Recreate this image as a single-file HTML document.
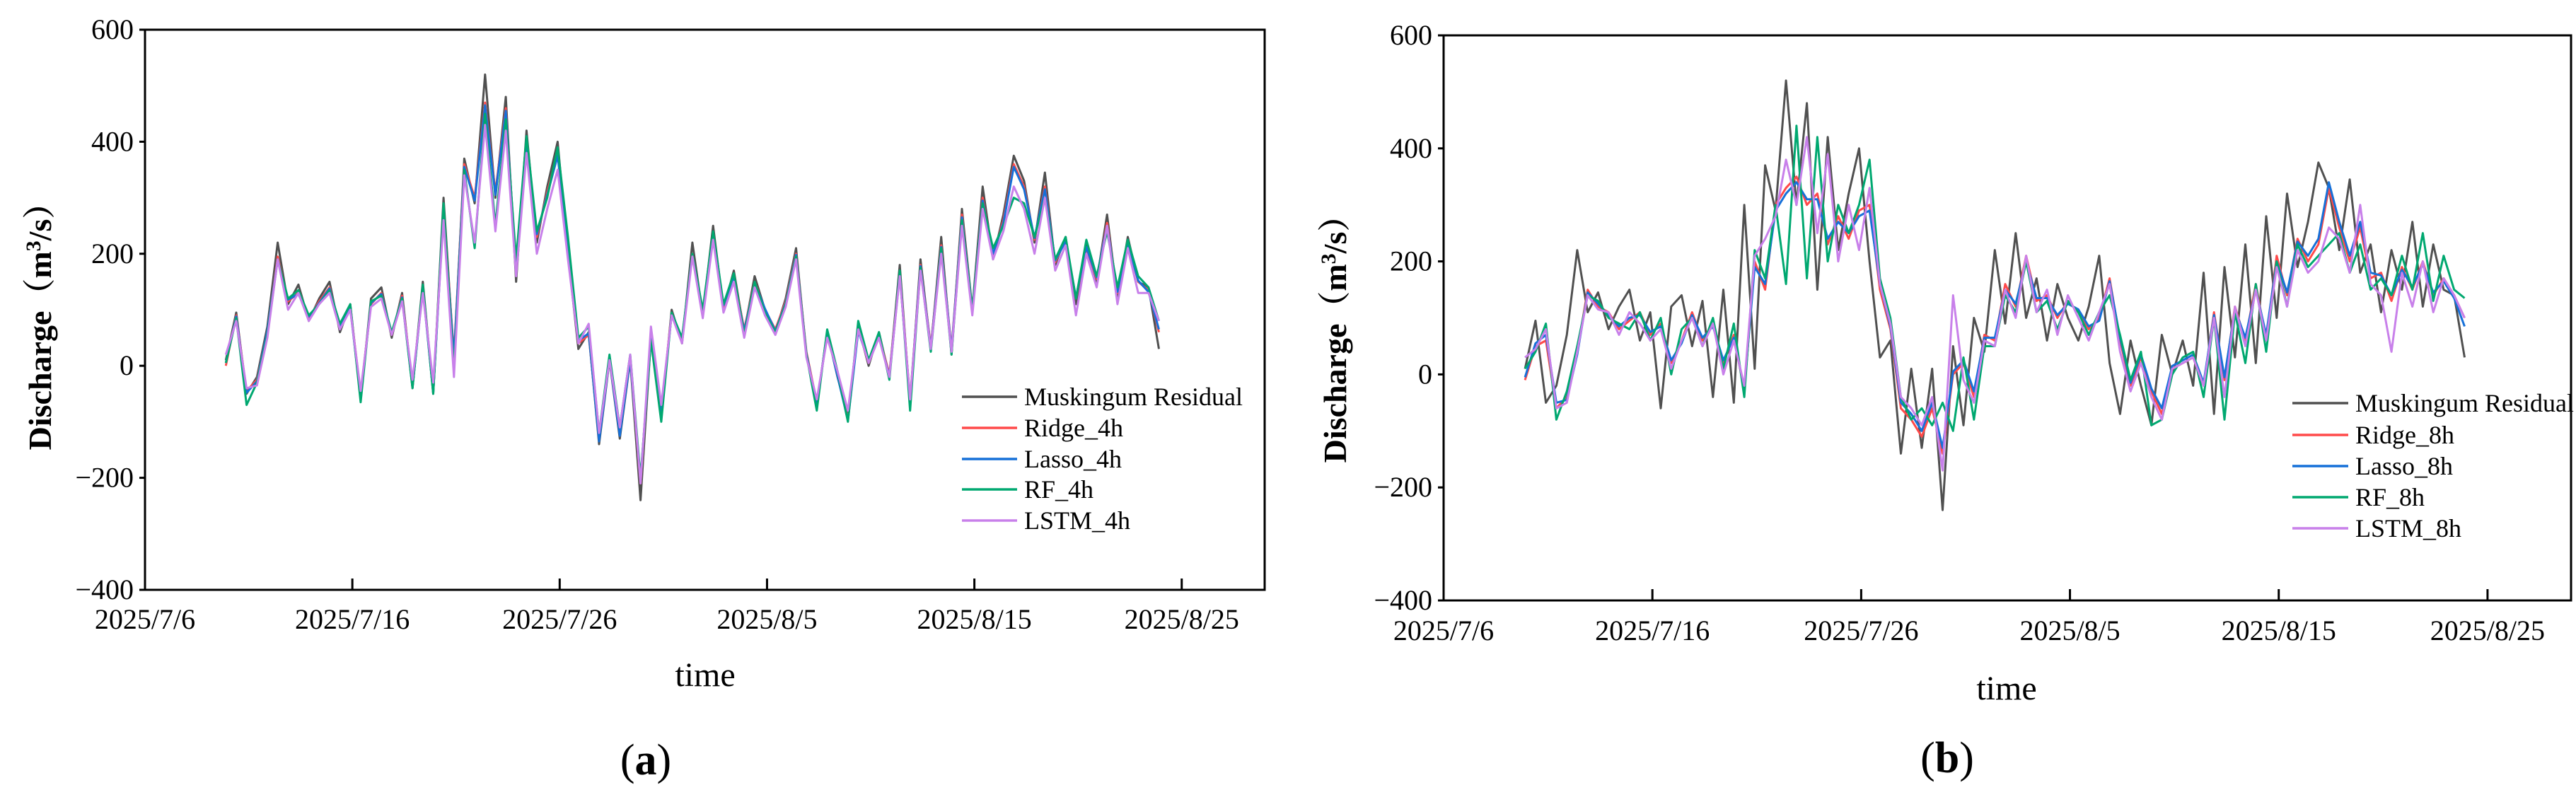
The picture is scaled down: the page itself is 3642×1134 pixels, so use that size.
<!DOCTYPE html>
<html><head><meta charset="utf-8">
<style>
html,body{margin:0;padding:0;background:#fff;}
svg{display:block;font-family:"Liberation Serif","Noto Serif CJK SC",serif;}
</style></head>
<body>
<svg id="fig" width="3642" height="1134" viewBox="0 0 3642 1134" xmlns="http://www.w3.org/2000/svg"></svg>
<script>
const tickLabels = ["2025/7/6","2025/7/16","2025/7/26","2025/8/5","2025/8/15","2025/8/25"];
const tickDays = [0,10,20,30,40,50];
const yTicks = [600,400,200,0,-200,-400];
const xMaxDay = 54;
const startDay = 3.9, stepDay = 0.5;
const muskingum = [10,95,-50,-20,70,220,110,145,80,120,150,60,110,-60,120,140,50,130,-40,150,-50,300,10,370,290,520,300,480,150,420,220,320,400,200,30,60,-140,10,-130,10,-240,50,-90,100,40,220,90,250,100,170,60,160,100,60,120,210,20,-70,60,-20,-90,70,0,60,-20,180,-70,190,30,230,20,280,100,320,190,270,375,330,220,345,180,230,110,220,150,270,120,230,150,140,30];
const ridge4 = [0,90,-45,-25,60,195,115,130,85,115,140,70,105,-50,110,130,55,125,-35,140,-45,280,20,360,300,470,310,460,170,400,230,310,380,210,40,55,-130,15,-120,15,-210,55,-80,95,45,200,95,230,105,160,65,150,100,65,115,200,25,-65,55,-15,-95,65,5,55,-15,165,-60,180,35,215,30,270,95,300,195,260,360,320,225,320,185,225,120,210,155,255,130,220,150,135,60];
const lasso4 = [5,88,-48,-28,62,190,118,128,88,112,138,72,102,-55,112,128,58,122,-38,138,-48,275,15,355,295,465,305,455,175,395,235,305,375,215,45,58,-135,12,-125,12,-205,52,-85,92,48,198,92,228,108,158,62,148,102,62,112,198,22,-68,58,-18,-98,62,8,52,-18,162,-62,178,32,212,28,265,98,295,200,255,355,315,228,315,188,222,122,212,158,250,132,218,152,132,65];
const rf4 = [5,85,-70,-30,55,190,120,135,90,110,135,75,110,-65,115,125,60,120,-40,145,-50,290,-10,350,210,450,250,440,190,410,240,300,390,230,50,70,-120,20,-110,20,-200,45,-100,95,50,200,100,240,110,165,55,150,95,60,110,195,20,-80,65,-10,-100,80,10,60,-25,170,-80,175,25,210,20,260,100,290,210,250,300,290,230,300,190,230,120,225,160,240,140,225,160,140,80];
const lstm4 = [20,80,-40,-35,50,190,100,130,80,110,130,65,100,-45,105,120,55,115,-25,130,-30,260,-20,340,220,430,240,420,160,380,200,280,350,190,40,75,-120,10,-110,20,-210,70,-70,90,40,195,85,225,95,150,50,140,90,55,105,190,15,-60,50,-10,-80,65,5,50,-20,160,-60,170,30,200,25,250,90,280,190,240,320,280,200,300,170,215,90,200,140,250,110,210,130,130,80];
const ridge8 = [-10,50,60,-60,-40,40,150,120,110,80,95,110,70,90,20,60,110,60,90,20,70,-30,200,150,300,330,350,300,320,230,280,240,290,300,150,80,-60,-80,-110,-60,-140,0,20,-40,70,60,160,120,210,130,140,100,130,110,80,100,170,60,-20,30,-30,-70,10,20,30,-20,110,-10,120,60,160,60,210,140,240,200,230,330,260,200,260,170,180,130,190,150,200,140,170,140,100];
const lasso8 = [-5,55,70,-50,-45,35,145,125,105,85,100,105,75,85,25,55,105,65,85,25,65,-25,190,160,290,320,340,310,310,240,270,250,280,290,160,85,-50,-70,-100,-50,-130,5,25,-30,65,65,150,125,200,135,135,105,125,115,85,95,165,65,-15,35,-25,-60,15,25,35,-15,105,-5,115,65,150,70,200,145,235,210,240,340,270,210,270,180,175,140,185,155,195,145,165,135,85];
const rf8 = [10,40,90,-80,-30,50,140,130,100,90,80,110,60,100,0,80,100,50,100,10,90,-40,220,170,300,160,440,170,420,200,300,250,300,380,170,100,-40,-80,-60,-90,-50,-100,30,-80,50,50,140,110,200,110,130,80,130,110,70,110,140,70,-10,40,-90,-80,0,30,40,-40,100,-80,110,20,160,40,200,120,230,190,210,230,250,180,230,150,170,140,210,150,250,130,210,150,135];
const lstm8 = [30,45,80,-60,-50,40,140,115,110,70,110,90,60,80,10,60,100,50,90,0,60,-20,210,240,280,380,300,420,250,390,200,300,220,330,160,90,-40,-60,-90,-40,-170,140,-10,-50,60,50,150,100,210,110,150,70,140,100,60,110,160,40,-30,20,-40,-80,10,20,30,-20,100,-40,120,50,150,60,190,120,220,180,200,260,240,180,300,160,140,40,180,120,200,110,170,140,100];

const NS="http://www.w3.org/2000/svg";
const svg=document.getElementById('fig');
function el(tag,attrs,parent){const e=document.createElementNS(NS,tag);for(const k in attrs)e.setAttribute(k,attrs[k]);(parent||svg).appendChild(e);return e;}
const colors={m:"#505050",r:"#ff4a4a",l:"#1670d8",f:"#00a870",s:"#c880ea"};

function panel(cfg){
  const g=el('g',{});
  
  
  const L=cfg.left,R=cfg.right,T=cfg.top,B=cfg.bottom;
  const xs=d=>L+(d/xMaxDay)*(R-L);
  const ys=v=>T+(600-v)/1000*(B-T);
  const series=[[muskingum,colors.m,'muskingum-line'],[cfg.data[0],colors.r,'ridge-line'],[cfg.data[1],colors.l,'lasso-line'],[cfg.data[2],colors.f,'rf-line'],[cfg.data[3],colors.s,'lstm-line']];
  series.forEach(s=>{
    const pts=s[0].map((v,i)=>xs(startDay+i*stepDay).toFixed(1)+','+ys(v).toFixed(1)).join(' ');
    const p=el('polyline',{points:pts,fill:'none',stroke:s[1],'stroke-width':3,'stroke-linejoin':'round'},g);
    
    
  });
  const fr=el('rect',{x:L,y:T,width:R-L,height:B-T,fill:'none',stroke:'#000','stroke-width':3},g);
  
  
  tickDays.forEach((d,i)=>{
    el('line',{x1:xs(d),x2:xs(d),y1:B,y2:B-16,stroke:'#000','stroke-width':3},g);
    const t=el('text',{x:xs(d),y:cfg.xlabY,'font-size':40,'text-anchor':'middle',fill:'#000'},g);
    t.textContent=tickLabels[i];
    
    
  });
  yTicks.forEach(v=>{
    el('line',{x1:L,x2:L-8,y1:ys(v),y2:ys(v),stroke:'#000','stroke-width':3},g);
    const t=el('text',{x:L-16,y:ys(v)+13,'font-size':40,'text-anchor':'end',fill:'#000'},g);
    t.textContent=(v<0?'\u2212'+(-v):v);
    
    
  });
  const xt=el('text',{x:cfg.timeX,y:cfg.timeY+15,'font-size':48,'text-anchor':'middle',fill:'#000'},g);
  xt.textContent='time';
  
  
  const yt=el('text',{x:0,y:0,'font-size':46,'font-weight':'bold','text-anchor':'middle',fill:'#000',transform:`translate(${cfg.yTitleX},${cfg.yTitleY}) rotate(-90)`},g);
  yt.innerHTML='Discharge（m<tspan dy="-15" font-size="30">3</tspan><tspan dy="15">/s）</tspan>';
  
  
  const lab=el('text',{x:cfg.capX,y:cfg.capY+20,'font-size':62,'text-anchor':'middle',fill:'#000'},g);
  lab.innerHTML='(<tspan font-weight="bold">'+cfg.cap+'</tspan>)';
  
  
  cfg.legend.forEach((name,i)=>{
    const y=cfg.legY[i];
    const ln=el('line',{x1:cfg.legX1,x2:cfg.legX2,y1:y,y2:y,stroke:series[i][1],'stroke-width':3.5},g);
    
    
    const t=el('text',{x:cfg.legX2+10,y:y+12,'font-size':36,fill:'#000'},g);
    t.textContent=name;
    
    
  });
}
panel({name:'panel-a',left:205,right:1788,top:42,bottom:834,xlabY:889,timeX:997,timeY:955,yTitleX:72,yTitleY:450,capX:913,capY:1075,cap:'a',
  data:[ridge4,lasso4,rf4,lstm4],legend:['Muskingum Residual','Ridge_4h','Lasso_4h','RF_4h','LSTM_4h'],
  legY:[561,605,649,692,736],legX1:1360,legX2:1438});
panel({name:'panel-b',left:2041,right:3635,top:50,bottom:849,xlabY:905,timeX:2837,timeY:974,yTitleX:1903,yTitleY:468,capX:2753,capY:1072,cap:'b',
  data:[ridge8,lasso8,rf8,lstm8],legend:['Muskingum Residual','Ridge_8h','Lasso_8h','RF_8h','LSTM_8h'],
  legY:[570,615,659,703,747],legX1:3241,legX2:3320});
</script>
</body></html>
